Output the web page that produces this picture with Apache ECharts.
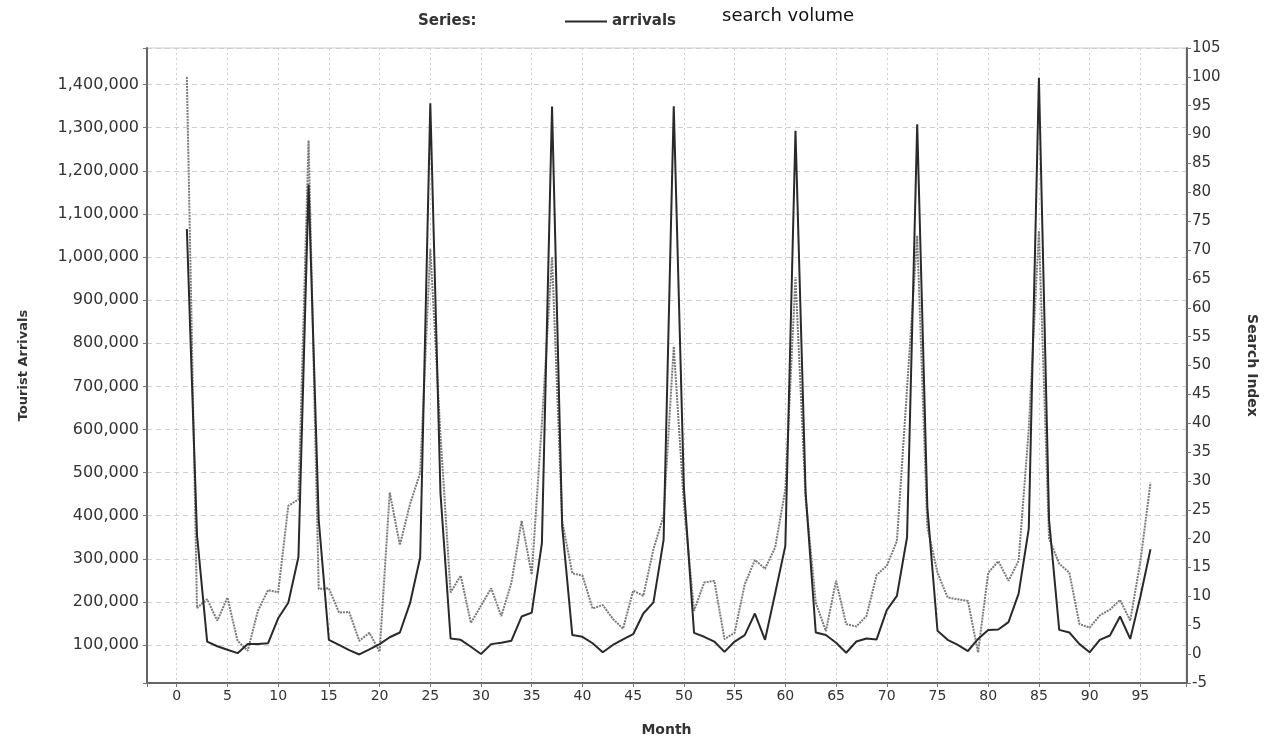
<!DOCTYPE html>
<html><head><meta charset="utf-8">
<script src="https://cdn.jsdelivr.net/npm/echarts@6/dist/echarts.min.js"></script>
<style>html,body{margin:0;padding:0;background:#fff}#c{width:1266px;height:737px}</style>
</head><body><div id="c"></div>
<script>
const months = [1,2,3,4,5,6,7,8,9,10,11,12,13,14,15,16,17,18,19,20,21,22,23,24,25,26,27,28,29,30,31,32,33,34,35,36,37,38,39,40,41,42,43,44,45,46,47,48,49,50,51,52,53,54,55,56,57,58,59,60,61,62,63,64,65,66,67,68,69,70,71,72,73,74,75,76,77,78,79,80,81,82,83,84,85,86,87,88,89,90,91,92,93,94,95,96];
const arrivals = [1065000,355000,108000,97000,89000,81000,102000,102000,104000,162000,198000,304000,
  1168000,390000,112000,100000,88000,78000,90000,102000,118000,129000,197000,303000,
  1357000,453000,115000,112000,96000,79000,102000,105000,110000,166000,175000,336000,
  1349000,375000,123000,119000,104000,83000,100000,113000,125000,173000,199000,344000,
  1350000,465000,128000,119000,108000,84000,108000,123000,173000,112000,220000,330000,
  1293000,453000,129000,123000,105000,82000,108000,115000,113000,181000,214000,350000,
  1308000,420000,133000,112000,100000,86000,114000,135000,136000,153000,219000,370000,
  1416000,390000,135000,129000,102000,83000,112000,122000,166000,114000,212000,322000];
const searchVolume = [100,8,9.5,5.8,9.8,2.3,0.6,7.5,11.1,10.7,25.7,26.8,
  89,11.3,11.4,7.2,7.3,2.3,3.7,0.4,28,18.9,26,31.4,
  70.2,38,10.7,13.6,5.4,8.4,11.4,6.6,12.4,23.1,13.8,40,
  68.8,23,14,13.6,7.9,8.5,6.1,4.4,11,10.1,18.2,24,
  53.3,26,7.5,12.4,12.7,2.6,3.7,12.1,16.3,14.8,18.5,28.5,
  65.3,27,8.9,4,12.7,5.2,4.8,6.6,13.7,15.3,19.6,46,
  72.5,22,14.1,9.8,9.5,9.2,0.3,14.1,16.1,12.7,16.2,39,
  73.3,20,15.7,14.1,5.2,4.6,6.7,7.7,9.4,5.8,16,29.7];
const monthTicks = [0,5,10,15,20,25,30,35,40,45,50,55,60,65,70,75,80,85,90,95];
const arrivalTicks = [100000,200000,300000,400000,500000,600000,700000,800000,900000,1000000,1100000,1200000,1300000,1400000];

function commas(v){ return String(v).replace(/\B(?=(\d{3})+(?!\d))/g, ','); }
const FONT = 'DejaVu Sans';
const chart = echarts.init(document.getElementById('c'), null, {renderer:'canvas'});
chart.setOption({
  animation: false,
  backgroundColor: '#fff',
  title: [
    {text: 'Series:', left: 418, top: 14, padding: 0,
     textStyle: {fontFamily: FONT, fontSize: 15, fontWeight: 'bold', color: '#333'}},
    {text: 'search volume', left: 722, top: 7, padding: 0,
     textStyle: {fontFamily: FONT, fontSize: 18, fontWeight: 'normal', color: '#111'}}
  ],
  legend: {
    left: 565, top: 14, padding: 0, itemWidth: 42, itemHeight: 2, itemGap: 5,
    icon: 'rect',
    data: ['arrivals'],
    textStyle: {fontFamily: FONT, fontSize: 15, fontWeight: 'bold', color: '#333'}
  },
  grid: {left: 147, right: 80, top: 48, bottom: 54, outerBoundsMode: 'none', containLabel: false,
         show: true, borderColor: '#cfcfcf', borderWidth: 1, backgroundColor: '#fff'},
  xAxis: {
    type: 'value', min: -2.93, max: 99.5, minInterval: 5, maxInterval: 5,
    name: 'Month', nameLocation: 'middle', nameGap: 40,
    nameTextStyle: {fontFamily: FONT, fontSize: 14, fontWeight: 'bold', color: '#333'},
    axisLine: {show: true, onZero: false, lineStyle: {color: '#666', width: 2}},
    axisTick: {show: true, length: 4, lineStyle: {color: '#777'}},
    axisLabel: {fontFamily: FONT, fontSize: 14, color: '#333', margin: 6,
      formatter: v => monthTicks.indexOf(Math.round(v*1000)/1000) >= 0 ? String(v) : ''},
    splitLine: {show: true, lineStyle: {color: '#cfcfcf', type: [2, 3], width: 1}}
  },
  yAxis: [
    {type: 'value', position: 'left', min: 11800, max: 1485000, minInterval: 100000, maxInterval: 100000,
     name: 'Tourist Arrivals', nameLocation: 'middle', nameGap: 117, nameRotate: 90,
     nameTextStyle: {fontFamily: FONT, fontSize: 13, fontWeight: 'bold', color: '#333'},
     axisLine: {show: true, onZero: false, lineStyle: {color: '#666', width: 2}},
     axisTick: {show: true, length: 4, lineStyle: {color: '#777'}},
     axisLabel: {fontFamily: FONT, fontSize: 16, color: '#333', margin: 8,
       formatter: v => arrivalTicks.indexOf(v) >= 0 ? commas(v) : ''},
     splitLine: {show: true, lineStyle: {color: '#cfcfcf', type: [5, 4], width: 1}}
    },
    {type: 'value', position: 'right', min: -5, max: 105, interval: 5, offset: 1,
     name: 'Search Index', nameLocation: 'middle', nameGap: 58, nameRotate: -90,
     nameTextStyle: {fontFamily: FONT, fontSize: 14, fontWeight: 'bold', color: '#333'},
     axisLine: {show: true, onZero: false, lineStyle: {color: '#666', width: 2}},
     axisTick: {show: true, length: 4, lineStyle: {color: '#777'}},
     axisLabel: {fontFamily: FONT, fontSize: 15, color: '#333', margin: 5},
     splitLine: {show: false}
    }
  ],
  series: [
    {name: 'search volume', type: 'line', yAxisIndex: 1, symbol: 'none',
     lineStyle: {color: '#7a7a7a', width: 2, type: [2, 1]},
     data: months.map((m, i) => [m, searchVolume[i]])},
    {name: 'arrivals', type: 'line', yAxisIndex: 0, symbol: 'none',
     lineStyle: {color: '#2a2a2a', width: 2},
     itemStyle: {color: '#2a2a2a'},
     data: months.map((m, i) => [m, arrivals[i]])}
  ]
});
</script></body></html>
